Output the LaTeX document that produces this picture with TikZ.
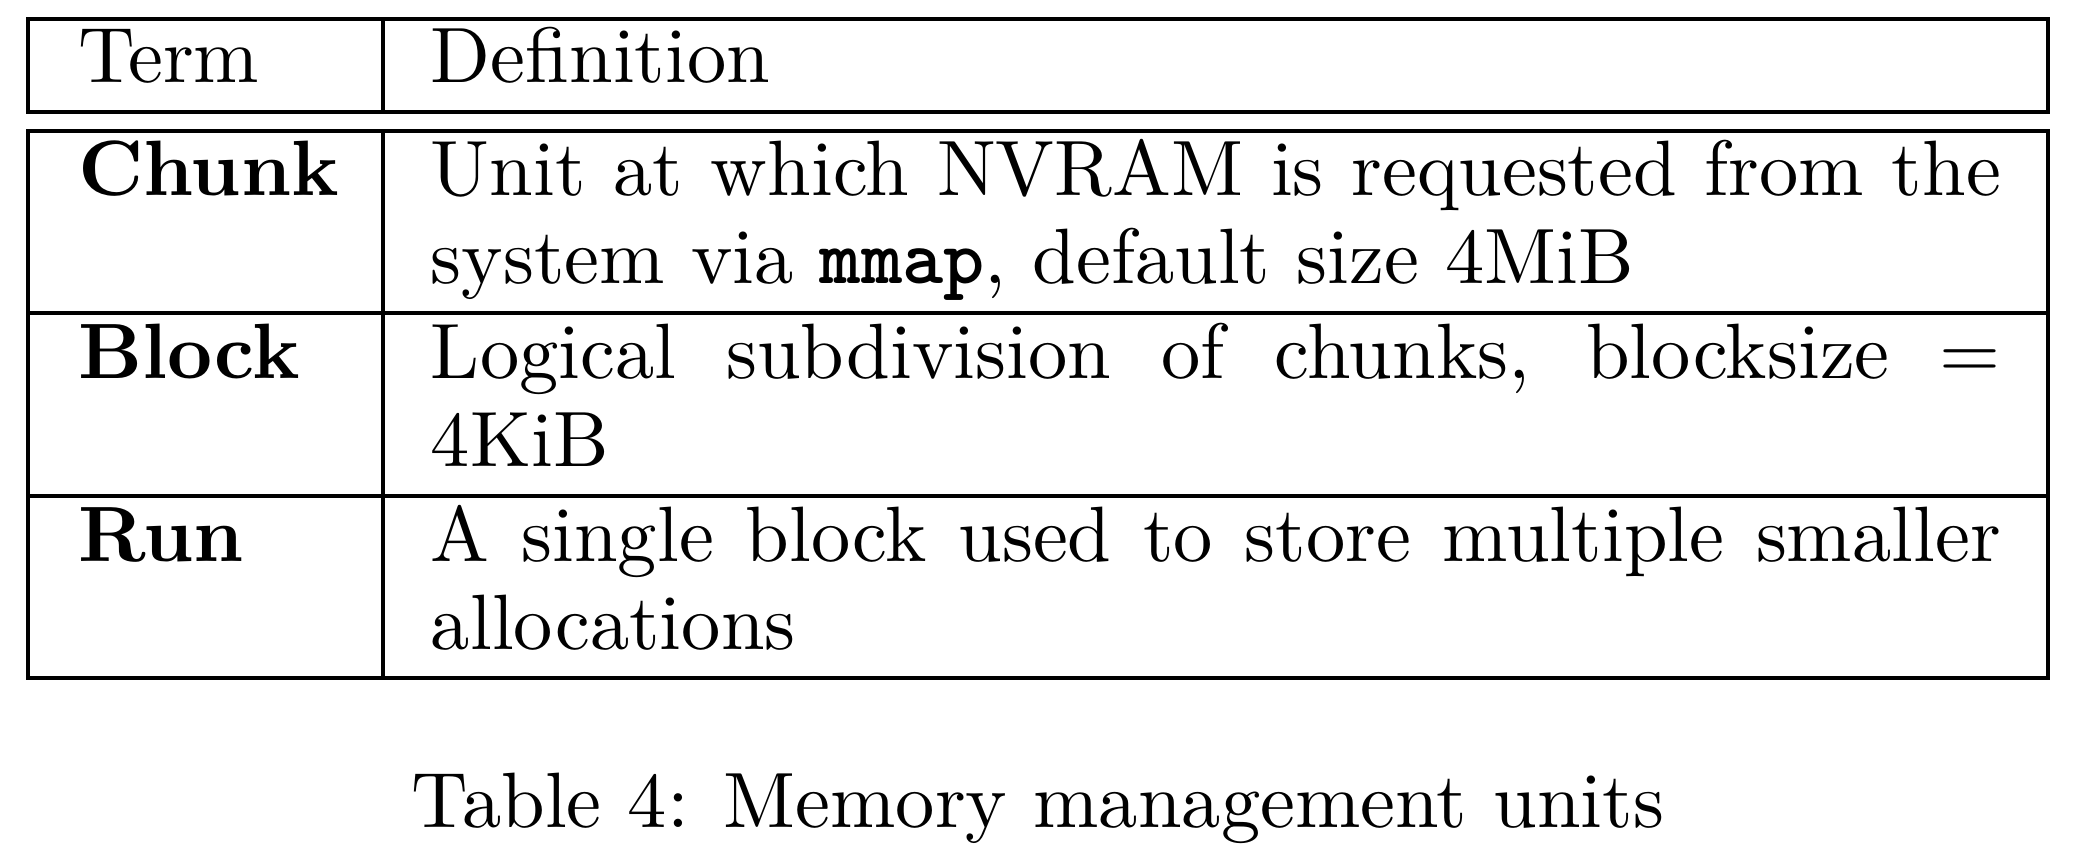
\documentclass[tikz,border=0pt]{standalone}
\tikzset{
  cell/.style={anchor=base west, inner sep=0pt, outer sep=0pt},
  capt/.style={anchor=base, inner sep=0pt},
}
\newcommand{\fillline}[1]{\makebox[200pt][s]{#1}}
\begin{document}
\begin{tikzpicture}[x=0.1274pt,y=-0.1274pt]
	\useasboundingbox (0,0) rectangle (2076,866);
	% header box
	\draw (28,19) rectangle (2048,112);
	\draw (383,19) -- (383,112);
	\node[cell] (term) at (78,83) {Term};
	\node[cell] (defn) at (431,83) {Definition};
	% body box
	\draw (28,131) rectangle (2048,678);
	\draw (383,131) -- (383,678);
	\draw (28,313) -- (2048,313);
	\draw (28,496) -- (2048,496);
	\node[cell] (chunk) at (78,196) {\textbf{Chunk}};
	\node[cell] (chunka) at (431,196) {\fillline{Unit at which NVRAM is requested from the}};
	\node[cell] (chunkb) at (431,284) {system via \texttt{\bfseries mmap}, default size 4MiB};
	\node[cell] (block) at (78,379) {\textbf{Block}};
	\node[cell] (blocka) at (431,379) {\fillline{Logical subdivision of chunks, blocksize $=$}};
	\node[cell] (blockb) at (431,467) {4KiB};
	\node[cell] (run) at (78,562) {\textbf{Run}};
	\node[cell] (runa) at (431,562) {\fillline{A single block used to store multiple smaller}};
	\node[cell] (runb) at (431,650) {allocations};
	% caption
	\node[capt] (caption) at (1038,828) {Table 4: Memory management units};
\end{tikzpicture}
\end{document}
